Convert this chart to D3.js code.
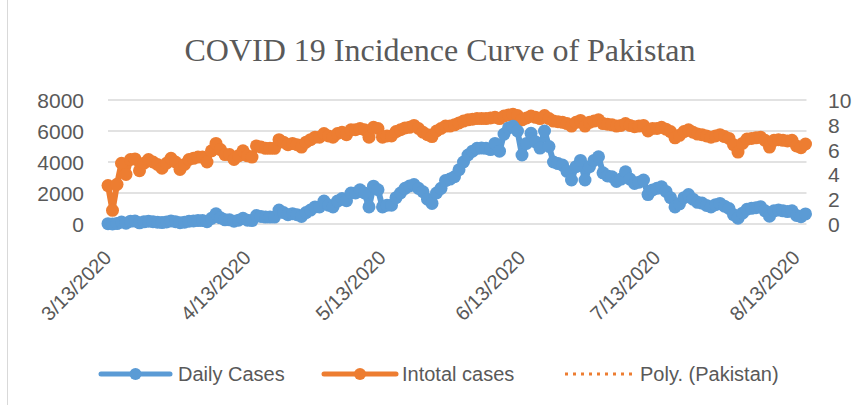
<!DOCTYPE html>
<html><head><meta charset="utf-8">
<script src="https://cdn.jsdelivr.net/npm/d3@7"></script>
<style>body{margin:0;background:#fff}svg{display:block}</style>
</head><body>
<svg id="c" width="859" height="405"></svg>
<script>
const title = "COVID 19 Incidence Curve of Pakistan";
const startDate = "3/13/2020";
const tickLabels = ["3/13/2020","4/13/2020","5/13/2020","6/13/2020","7/13/2020","8/13/2020"];
const leftTicks = [0,2000,4000,6000,8000];
const rightTicks = [0,2,4,6,8,10];
const seriesNames = ["Daily Cases","Intotal cases","Poly. (Pakistan)"];
const dailyCases = [
 20,3,25,130,55,180,190,75,140,180,
 150,120,90,135,200,150,80,120,180,200,
 220,220,150,365,660,400,270,270,180,245,
 365,245,220,545,490,445,445,445,900,735,
 600,665,600,490,735,900,1100,1100,1480,1210,
 1100,1480,1640,1500,2000,2000,2210,2000,1100,2440,
 2210,1100,1210,1210,1700,2000,2300,2450,2550,2300,
 2080,1600,1330,2000,2300,2800,2900,3050,3500,4000,
 4450,4700,4880,4900,4880,4800,5200,4700,5800,6200,
 6300,6000,4450,5200,5850,5300,4900,6000,5000,4000,
 3900,3800,3400,2840,3700,4100,2840,3700,4100,4340,
 3300,3100,3050,2750,2900,3370,2900,2620,2700,2840,
 1900,2200,2300,2400,2100,1700,1100,1300,1700,1900,
 1600,1400,1350,1200,1100,1250,1330,1150,1000,600,
 370,700,950,1010,1050,1120,850,500,850,900,
 850,800,850,550,470,650];
const intotalCases = [
 3.1,1.1,3.2,4.9,4.0,5.2,5.25,4.3,4.9,5.2,
 5.0,4.8,4.5,4.9,5.3,5.0,4.4,4.8,5.2,5.3,
 5.4,5.4,5.0,5.9,6.5,6.0,5.6,5.6,5.2,5.5,
 5.9,5.5,5.4,6.3,6.2,6.1,6.1,6.1,6.8,6.6,
 6.4,6.5,6.4,6.2,6.6,6.8,7.0,7.0,7.3,7.1,
 7.0,7.3,7.4,7.2,7.6,7.6,7.7,7.6,7.0,7.8,
 7.7,7.0,7.1,7.1,7.45,7.6,7.75,7.8,7.95,7.7,
 7.4,7.2,7.05,7.5,7.7,7.9,7.9,8.0,8.15,8.3,
 8.4,8.45,8.5,8.5,8.5,8.55,8.6,8.5,8.7,8.8,
 8.85,8.75,8.4,8.55,8.7,8.6,8.5,8.75,8.5,8.3,
 8.25,8.2,8.1,7.9,8.2,8.35,7.9,8.2,8.3,8.4,
 8.1,8.05,8.0,7.9,7.95,8.1,7.95,7.85,7.9,7.95,
 7.5,7.7,7.7,7.8,7.65,7.45,6.95,7.15,7.45,7.6,
 7.4,7.25,7.2,7.1,7.0,7.1,7.2,7.05,6.9,6.4,
 5.8,6.5,6.85,6.9,6.95,7.0,6.75,6.2,6.75,6.8,
 6.75,6.7,6.75,6.3,6.15,6.45];

const parse = d3.timeParse("%m/%d/%Y");
const fmt = d3.timeFormat("%-m/%-d/%Y");
const t0 = parse(startDate);
const dates = dailyCases.map((_, i) => d3.timeDay.offset(t0, i));

const svg = d3.select("#c");
const plot = {left: 108, right: 805.5, top: 100, bottom: 224};
const blue = "#5b9bd5", orange = "#ed7d31", textC = "#595959", grid = "#d9d9d9";

// chart border
svg.append("rect").attr("x", 7.5).attr("y", -2).attr("width", 900).attr("height", 440)
  .attr("fill", "none").attr("stroke", grid).attr("stroke-width", 1);

const x = d3.scaleTime().domain([dates[0], dates[dates.length-1]]).range([plot.left, plot.right]);
const yL = d3.scaleLinear().domain([0, 8000]).range([plot.bottom, plot.top]);
const yR = d3.scaleLinear().domain([0, 10]).range([plot.bottom, plot.top]);

// title
svg.append("text").attr("x", 440).attr("y", 61).attr("text-anchor", "middle")
  .attr("font-family", "'Liberation Serif','Times New Roman',serif").attr("font-size", 32)
  .attr("fill", textC).text(title);

// gridlines
svg.append("g").selectAll("line").data(leftTicks).join("line")
  .attr("x1", plot.left).attr("x2", plot.right + 1)
  .attr("y1", d => yL(d)).attr("y2", d => yL(d))
  .attr("stroke", grid).attr("stroke-width", 1.5);

const fontSans = "'Liberation Sans',Arial,sans-serif";

// left axis
const axL = svg.append("g").attr("transform", `translate(${plot.left - 24},0)`)
  .call(d3.axisLeft(yL).tickValues(leftTicks).tickFormat(d3.format("d")).tickSize(0).tickPadding(0));
axL.select(".domain").remove();
axL.selectAll("text").attr("font-family", fontSans)
  .attr("font-size", 21).attr("fill", textC).attr("dy", "0.36em");

// right axis
const axR = svg.append("g").attr("transform", `translate(828,0)`)
  .call(d3.axisRight(yR).tickValues(rightTicks).tickFormat(d3.format("d")).tickSize(0).tickPadding(0));
axR.select(".domain").remove();
axR.selectAll("text").attr("font-family", fontSans)
  .attr("font-size", 21).attr("fill", textC).attr("dy", "0.36em");

// x axis
const tickDates = tickLabels.map(parse);
const axX = svg.append("g").attr("transform", `translate(0,${plot.bottom})`)
  .call(d3.axisBottom(x).tickValues(tickDates).tickFormat(fmt).tickSize(0).tickPadding(0));
axX.select(".domain").remove();
axX.selectAll("text").attr("font-family", fontSans)
  .attr("font-size", 20).attr("fill", textC)
  .attr("text-anchor", "end").attr("dy", 0)
  .attr("transform", "translate(4,35) rotate(-45)");

// series
const orangeData = intotalCases.map((v, i) => ({d: dates[i], v}));
const blueData = dailyCases.map((v, i) => ({d: dates[i], v}));

svg.append("path").datum(orangeData)
  .attr("d", d3.line().x(p => x(p.d)).y(p => yR(p.v)))
  .attr("fill", "none").attr("stroke", orange).attr("stroke-width", 6).attr("stroke-linejoin", "round");
svg.append("g").selectAll("circle").data(orangeData).join("circle")
  .attr("cx", p => x(p.d)).attr("cy", p => yR(p.v)).attr("r", 6.5).attr("fill", orange);

svg.append("path").datum(blueData)
  .attr("d", d3.line().x(p => x(p.d)).y(p => yL(p.v)))
  .attr("fill", "none").attr("stroke", blue).attr("stroke-width", 6).attr("stroke-linejoin", "round");
svg.append("g").selectAll("circle").data(blueData).join("circle")
  .attr("cx", p => x(p.d)).attr("cy", p => yL(p.v)).attr("r", 6.5).attr("fill", blue);

// legend
const ly = 374;
const legend = [
  {name: seriesNames[0], color: blue, x1: 101, x2: 170, marker: true, tx: 178},
  {name: seriesNames[1], color: orange, x1: 324, x2: 396, marker: true, tx: 402},
  {name: seriesNames[2], color: orange, x1: 565, x2: 634, marker: false, tx: 640}
];
const lg = svg.append("g");
legend.forEach(l => {
  if (l.marker) {
    lg.append("line").attr("x1", l.x1).attr("x2", l.x2).attr("y1", ly).attr("y2", ly)
      .attr("stroke", l.color).attr("stroke-width", 5).attr("stroke-linecap", "round");
    lg.append("circle").attr("cx", (l.x1 + l.x2) / 2).attr("cy", ly).attr("r", 6).attr("fill", l.color);
  } else {
    lg.append("line").attr("x1", l.x1).attr("x2", l.x2).attr("y1", ly).attr("y2", ly)
      .attr("stroke", l.color).attr("stroke-width", 3).attr("stroke-dasharray", "3,5");
  }
  lg.append("text").attr("x", l.tx).attr("y", ly).attr("dy", "0.36em")
    .attr("font-family", fontSans).attr("font-size", 20)
    .attr("fill", textC).text(l.name);
});
</script>
</body></html>
